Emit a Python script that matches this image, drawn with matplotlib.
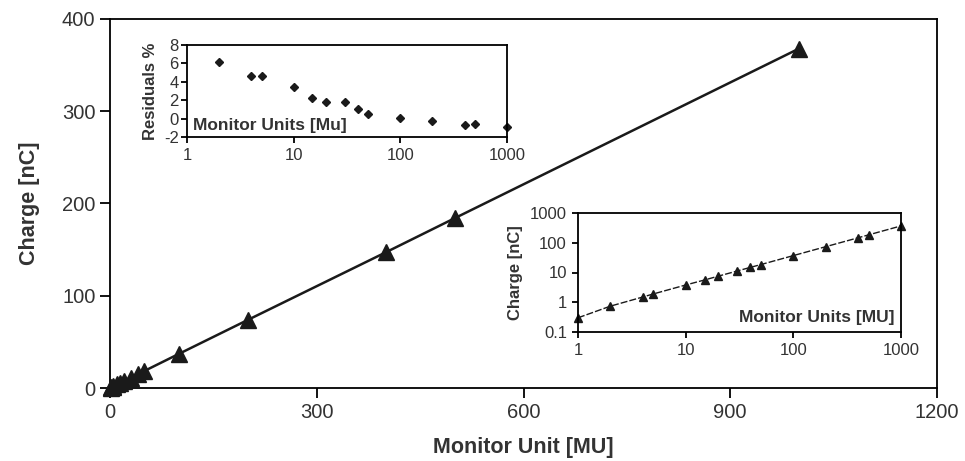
import numpy as np
import matplotlib.pyplot as plt
from matplotlib.ticker import FixedLocator, NullLocator, FixedFormatter

plt.rcParams['font.family'] = 'Liberation Sans'
plt.rcParams['axes.linewidth'] = 1.3
plt.rcParams['axes.unicode_minus'] = False

# ── Data ─────────────────────────────────────────────────────────────────────
mu     = [1, 2, 4, 5, 10, 15, 20, 30, 40, 50, 100, 200, 400, 500, 1000]
charge = [0.30, 0.74, 1.50, 1.90, 3.80, 5.62, 7.50, 11.2, 14.9, 18.5,
          37.0, 73.8, 147.0, 184.0, 368.0]

res_mu  = [2, 4, 5, 10, 15, 20, 30, 40, 50, 100, 200, 400, 500, 1000]
res_pct = [6.2, 4.6, 4.6, 3.4, 2.2, 1.8, 1.8, 1.0, 0.5, 0.1, -0.3, -0.7, -0.6, -0.9]

main_xticks = [0, 300, 600, 900, 1200]
main_yticks = [0, 100, 200, 300, 400]
log_xticks  = [1, 10, 100, 1000]
log_yticks  = [0.1, 1, 10, 100, 1000]
res_yticks  = [-2, 0, 2, 4, 6, 8]

TXT = '#333333'

fig = plt.figure(figsize=(9.65, 4.61), dpi=100)

# ── Main axes ────────────────────────────────────────────────────────────────
ax = fig.add_axes([110 / 965, 1 - 388 / 461, 827 / 965, 369 / 461])
ax.plot(mu, charge, '-^', color='#1a1a1a', linewidth=1.8, markersize=11.5,
        clip_on=False, zorder=3)
ax.set_xlim(0, 1200)
ax.set_ylim(0, 400)
ax.set_xticks(main_xticks)
ax.set_yticks(main_yticks)
ax.tick_params(direction='out', length=7.5, width=1.3, labelsize=14.5,
               labelcolor=TXT, pad=3)
ax.set_xlabel('Monitor Unit [MU]', fontsize=15.5, fontweight='bold', color=TXT,
              labelpad=11)
ax.set_ylabel('Charge [nC]', fontsize=15.5, fontweight='bold', color=TXT,
              labelpad=16)

# ── Inset: residuals ─────────────────────────────────────────────────────────
ax1 = fig.add_axes([187 / 965, 1 - 137 / 461, 320 / 965, 92 / 461])
ax1.plot(res_mu, res_pct, 'D', color='#1a1a1a', markersize=4.5, clip_on=False)
ax1.set_xscale('log')
ax1.set_xlim(1, 1000)
ax1.set_ylim(-2, 8)
ax1.xaxis.set_major_locator(FixedLocator(log_xticks))
ax1.xaxis.set_major_formatter(FixedFormatter([str(v) for v in log_xticks]))
ax1.xaxis.set_minor_locator(NullLocator())
ax1.set_yticks(res_yticks)
ax1.tick_params(direction='out', length=4, width=1.3, labelsize=12,
                labelcolor=TXT, pad=4)
ax1.tick_params(axis='y', pad=2)
ax1.set_ylabel('Residuals %', fontsize=12, fontweight='bold', color=TXT,
               labelpad=4)
ax1.text(0.02, 0.04, 'Monitor Units [Mu]', transform=ax1.transAxes,
         fontsize=12.5, fontweight='bold', color=TXT, ha='left', va='bottom')

# ── Inset: log-log charge ────────────────────────────────────────────────────
ax2 = fig.add_axes([578 / 965, 1 - 332 / 461, 323 / 965, 119 / 461])
ax2.plot(mu, charge, '^', color='#1a1a1a', markersize=6, clip_on=False)
ax2.plot(mu, charge, color='#1a1a1a', linewidth=1.0, linestyle=(0, (5, 1.5)))
ax2.set_xscale('log')
ax2.set_yscale('log')
ax2.set_xlim(1, 1000)
ax2.set_ylim(0.1, 1000)
ax2.xaxis.set_major_locator(FixedLocator(log_xticks))
ax2.xaxis.set_major_formatter(FixedFormatter([str(v) for v in log_xticks]))
ax2.yaxis.set_major_locator(FixedLocator(log_yticks))
ax2.yaxis.set_major_formatter(FixedFormatter(['0.1', '1', '10', '100', '1000']))
ax2.xaxis.set_minor_locator(NullLocator())
ax2.yaxis.set_minor_locator(NullLocator())
ax2.tick_params(direction='out', length=4, width=1.3, labelsize=12,
                labelcolor=TXT, pad=4)
ax2.set_ylabel('Charge [nC]', fontsize=12, fontweight='bold', color=TXT,
               labelpad=5)
ax2.text(0.98, 0.06, 'Monitor Units [MU]', transform=ax2.transAxes,
         fontsize=12.5, fontweight='bold', color=TXT, ha='right', va='bottom')

fig.savefig('out.png', dpi=100)
